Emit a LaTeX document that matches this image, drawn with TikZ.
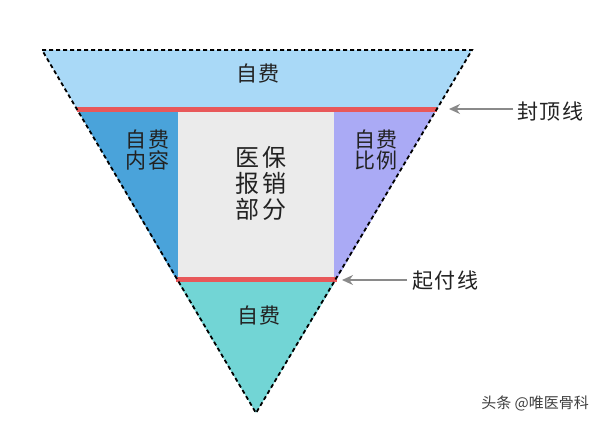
\documentclass[tikz,border=0pt]{standalone}
\usepackage{fontspec}
\setmainfont{Noto Sans CJK SC}
\newfontfamily\cjkwide[LetterSpace=8]{Noto Sans CJK SC}
\newfontfamily\cjkbig[LetterSpace=14]{Noto Sans CJK SC}
\usetikzlibrary{arrows.meta}
\definecolor{topblue}{HTML}{A9D9F7}
\definecolor{leftblue}{HTML}{4AA3DA}
\definecolor{midgray}{HTML}{EBEBEB}
\definecolor{rightpurple}{HTML}{AAAAF5}
\definecolor{botteal}{HTML}{72D5D5}
\definecolor{redline}{HTML}{E8585A}
\definecolor{arrowgray}{HTML}{8A8A8A}
\definecolor{txt}{HTML}{222222}
\tikzset{
  limitline/.style={draw=redline, line width=5pt},
  outline/.style={draw=black, line width=1.8pt, dash pattern=on 4pt off 3pt},
  pointer/.style={draw=arrowgray, line width=1.5pt, -{Stealth[length=11pt,width=10pt]}},
  lbl/.style={font=\cjkwide\fontsize{21}{21}\selectfont, text=txt, align=center, inner sep=0pt},
  biglbl/.style={font=\cjkbig\fontsize{24}{26}\selectfont, text=txt, align=center, inner sep=0pt},
  sidelbl/.style={font=\cjkwide\fontsize{21}{21}\selectfont, text=txt, anchor=west, inner sep=0pt},
  wm/.style={font=\fontsize{15}{17}\selectfont, text=black!75, anchor=east, inner sep=0pt}
}
\begin{document}
\begin{tikzpicture}[x=1pt,y=-1pt]
\useasboundingbox (0,0) rectangle (599,421);
\fill[white] (0,0) rectangle (599,421);
% corners
\coordinate (TL) at (42,50);
\coordinate (TR) at (472,50);
\coordinate (B) at (256,413);
\coordinate (L1) at (77,109);
\coordinate (R1) at (437,109);
\coordinate (L2) at (176,279);
\coordinate (R2) at (337,279);
% regions
\fill[topblue] (TL) -- (TR) -- (R1) -- (L1) -- cycle;
\fill[leftblue] (L1) -- (178,109) -- (178,279) -- (L2) -- cycle;
\fill[midgray] (178,109) rectangle (334,279);
\fill[rightpurple] (334,109) -- (R1) -- (R2) -- (334,279) -- cycle;
\fill[botteal] (L2) -- (R2) -- (B) -- cycle;
% limit lines
\draw[limitline] (L1) -- (R1);
\draw[limitline] (L2) -- (R2);
% dashed outline
\draw[outline] (TL) -- (TR) -- (B) -- cycle;
% texts
\node[lbl] (top) at (258,74) {自费};
\node[lbl] (left) at (147.5,150.5) {自费\\内容};
\node[biglbl] (mid) at (261,183) {医保\\报销\\部分};
\node[lbl] (right) at (376,150.5) {自费\\比例};
\node[lbl] (bot) at (259,316) {自费};
% side labels
\node[sidelbl] (cap) at (517,111.5) {封顶线};
\node[sidelbl] (start) at (412,281) {起付线};
\coordinate (capTip) at (449,109);
\coordinate (startTip) at (342,280);
\draw[pointer] (cap.west |- capTip) ++(-4,0) -- (capTip);
\draw[pointer] (start.west |- startTip) ++(-5,0) -- (startTip);
% watermark
\node[wm] (mark) at (589,403) {头条 @唯医骨科};
\end{tikzpicture}
\end{document}
